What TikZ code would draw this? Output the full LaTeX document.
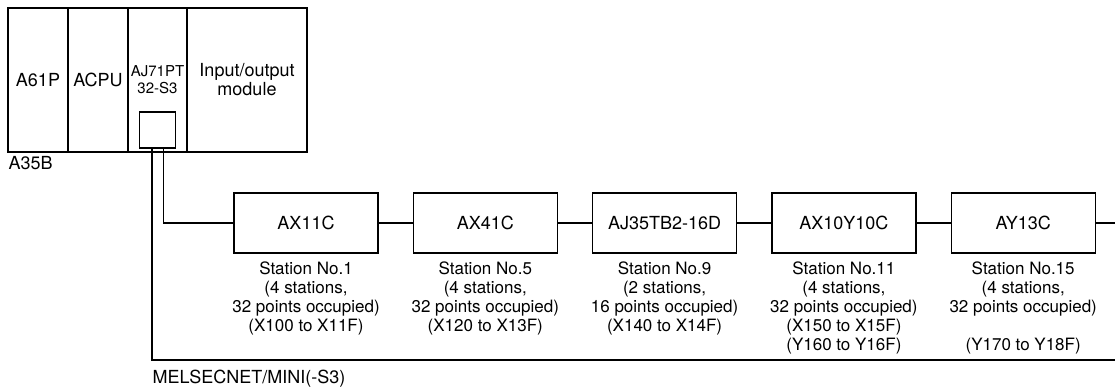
\documentclass[tikz,border=0pt]{standalone}
\usepackage{fontspec}
\setmainfont{TeX Gyre Heros}
\usetikzlibrary{positioning}
\begin{document}
\begin{tikzpicture}[x=0.5pt, y=-0.5pt, line width=0.65pt,
  mod_box/.style={draw, outer sep=0pt, minimum height=72pt, inner sep=1pt, align=center, font=\fontsize{9}{9.5}\selectfont},
  stn_box/.style={draw, minimum width=72pt, minimum height=30pt, font=\fontsize{9}{9.5}\selectfont},
  stn_text/.style={below=0.5pt of #1, align=center, font=\fontsize{8.5}{9.5}\selectfont},
  plain_label/.style={anchor=west, inner sep=0pt, font=\fontsize{9}{9.5}\selectfont}]
  \useasboundingbox (0,0) rectangle (1115,389);
  \node[mod_box, minimum width=30pt] (a61p) at (38,80) {A61P};
  \node[mod_box, minimum width=30pt, right=0pt of a61p] (acpu) {ACPU};
  \node[mod_box, minimum width=29.5pt, right=0pt of acpu, font=\fontsize{7.5}{8.5}\selectfont] (aj71) {AJ71PT\\32-S3};
  \node[mod_box, minimum width=60pt, right=0pt of aj71] (io) {Input/output\\module};
  \node[draw, minimum size=18pt, inner sep=0pt] (port) at (157.5,130) {};
  \node[plain_label] (rack_name) at (8,163) {A35B};
  \node[stn_box] (ax11c) at (306,223) {AX11C};
  \node[stn_box, right=17pt of ax11c] (ax41c) {AX41C};
  \node[stn_box, right=17pt of ax41c] (aj35) {AJ35TB2-16D};
  \node[stn_box, right=17pt of aj35] (ax10y10c) {AX10Y10C};
  \node[stn_box, right=17pt of ax10y10c] (ay13c) {AY13C};
  \node[stn_text=ax11c] (t_ax11c) {Station No.1\\(4 stations,\\32 points occupied)\\(X100 to X11F)};
  \node[stn_text=ax41c] (t_ax41c) {Station No.5\\(4 stations,\\32 points occupied)\\(X120 to X13F)};
  \node[stn_text=aj35] (t_aj35) {Station No.9\\(2 stations,\\16 points occupied)\\(X140 to X14F)};
  \node[stn_text=ax10y10c] (t_ax10y10c) {Station No.11\\(4 stations,\\32 points occupied)\\(X150 to X15F)\\(Y160 to Y16F)};
  \node[stn_text=ay13c] (t_ay13c) {Station No.15\\(4 stations,\\32 points occupied)\\\mbox{}\\(Y170 to Y18F)};
  \coordinate (chain_end) at (1115,223);
  \coordinate (bus_end) at (1115,360);
  \draw ([xshift=3pt]port.south) |- (ax11c.west);
  \draw (ax11c) -- (ax41c) -- (aj35) -- (ax10y10c) -- (ay13c) -- (chain_end);
  \draw ([xshift=-2.75pt]port.south) |- (bus_end);
  \node[plain_label] (net_name) at (152,379) {MELSECNET/MINI(-S3)};
\end{tikzpicture}
\end{document}
